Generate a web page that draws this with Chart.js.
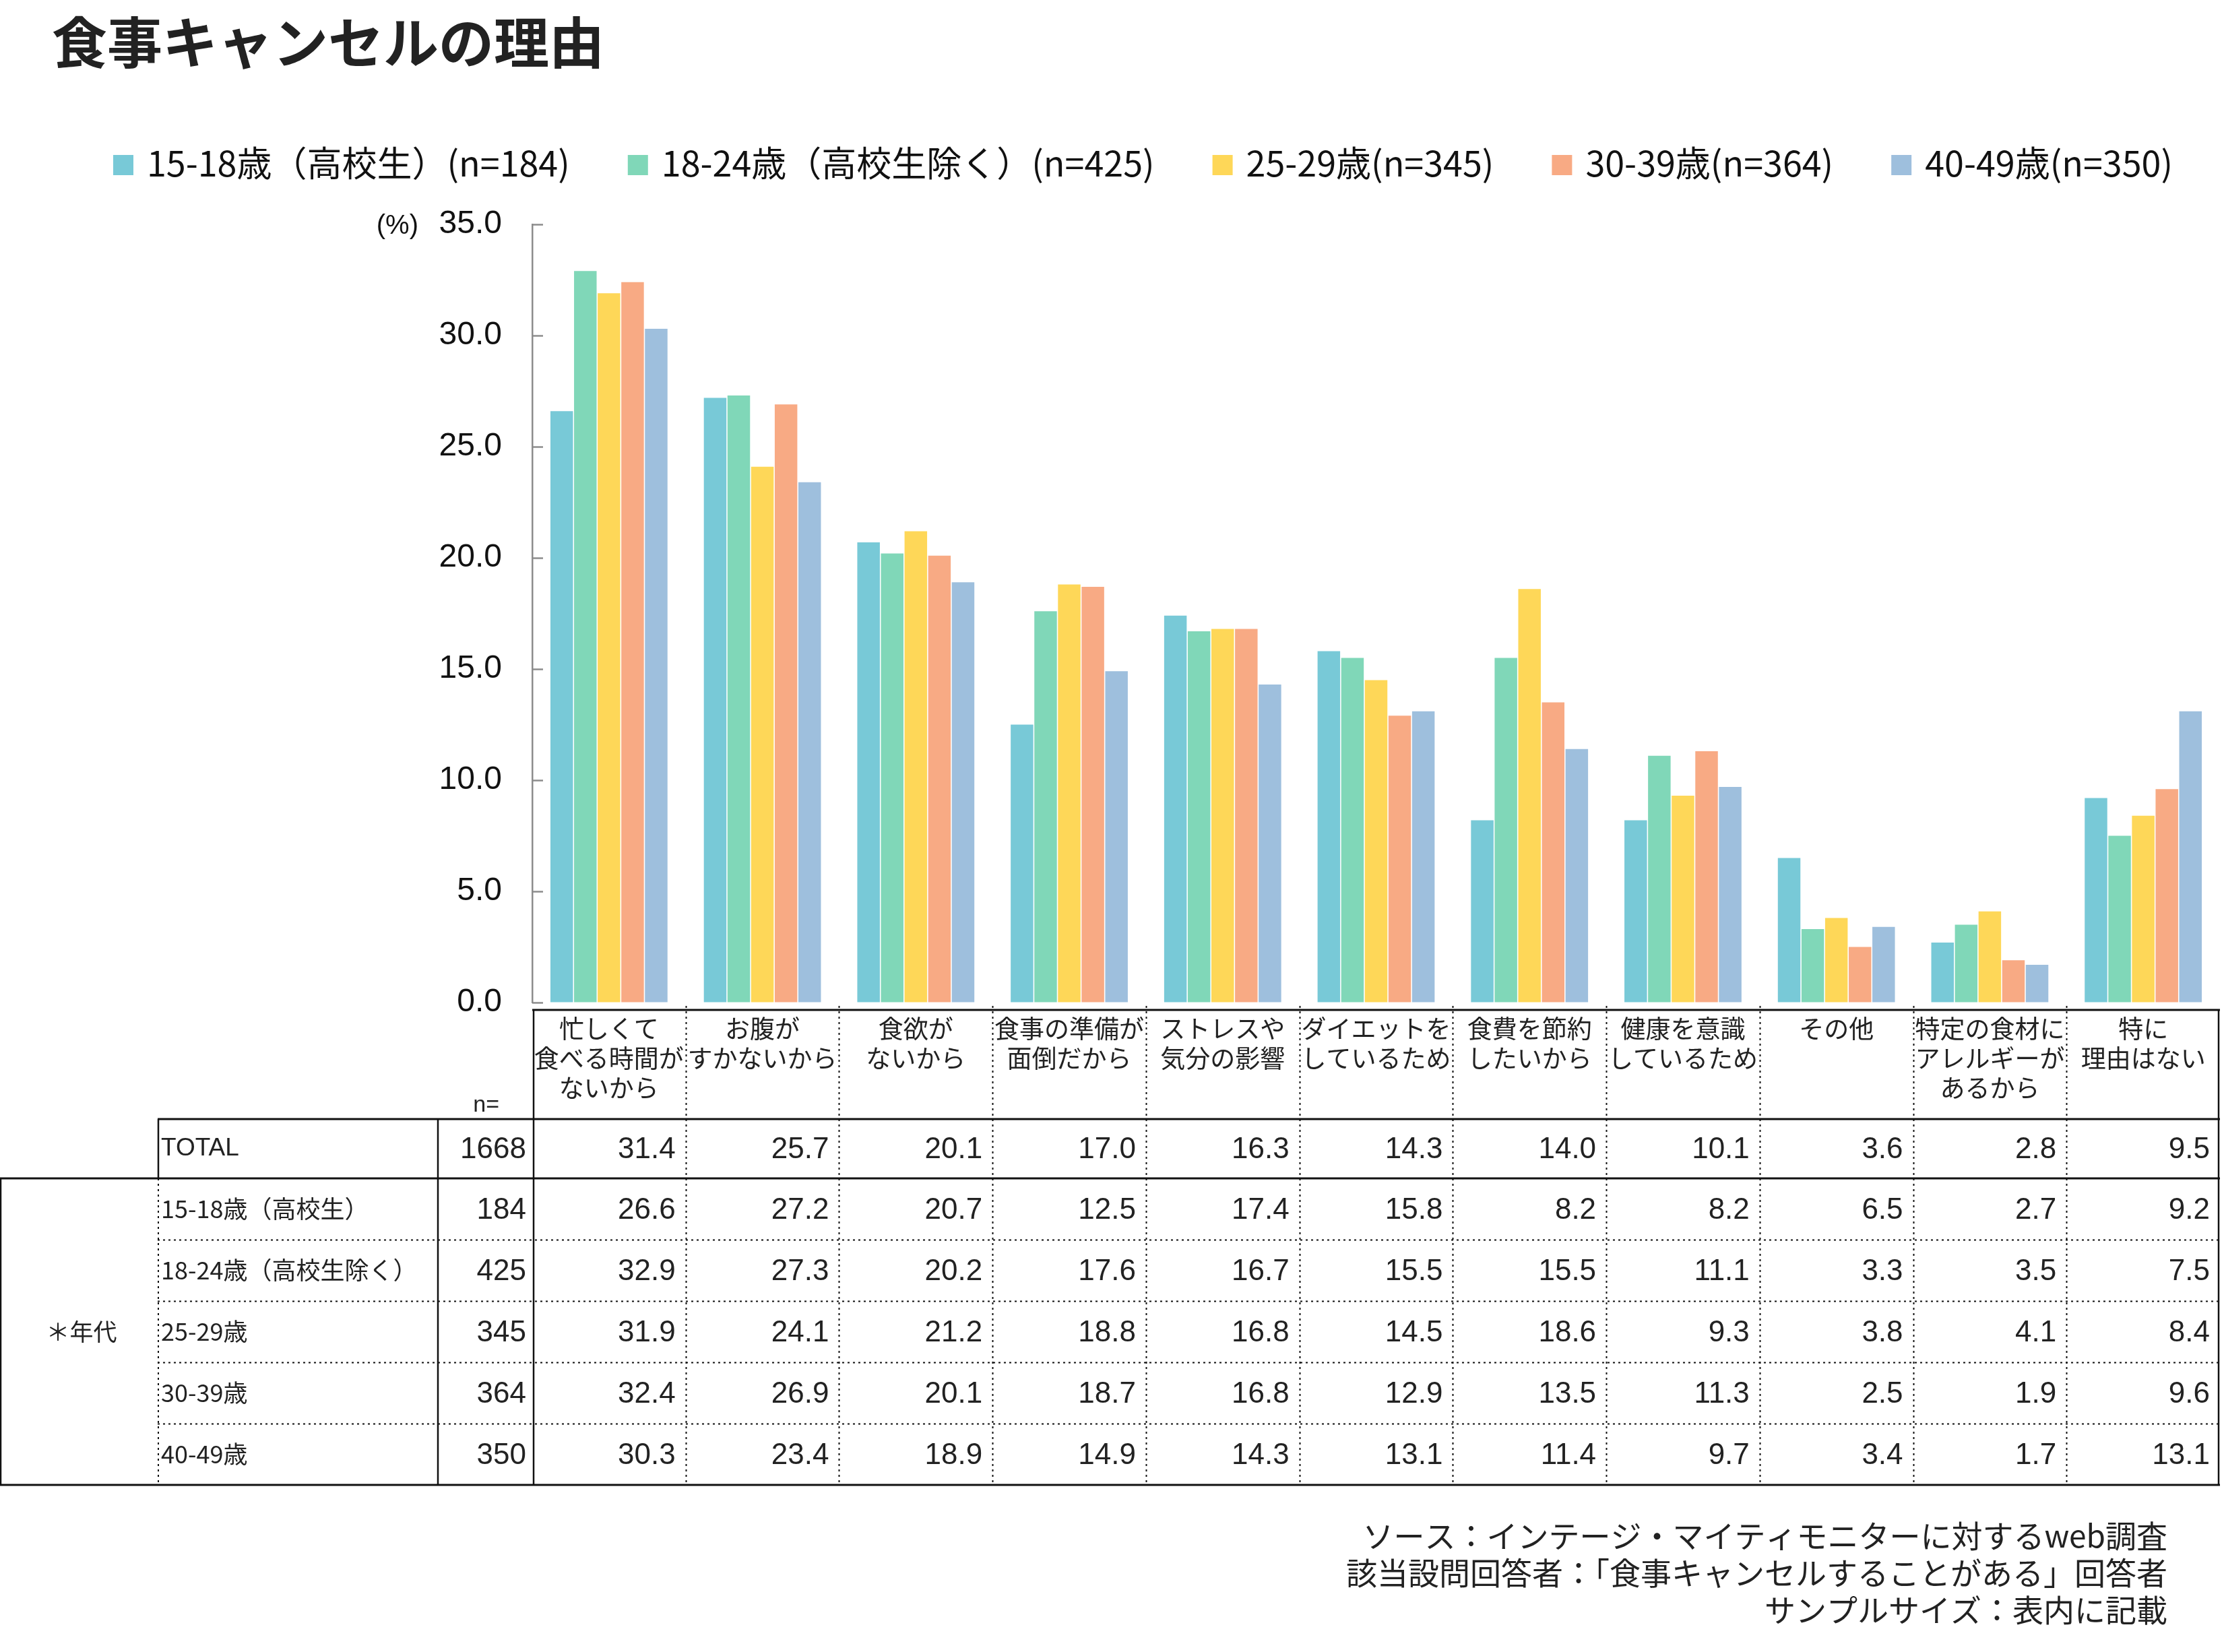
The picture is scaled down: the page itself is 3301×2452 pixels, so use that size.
<!DOCTYPE html>
<html lang="ja">
<head>
<meta charset="utf-8">
<title>食事キャンセルの理由</title>
<script src="https://cdn.jsdelivr.net/npm/chart.js@4.4.1/dist/chart.umd.min.js"></script>
<style>
  html, body { margin: 0; padding: 0; background: #fff; }
  #wrap { width: 3301px; height: 2452px; }
</style>
</head>
<body>
<div id="wrap"><canvas id="myChart" width="3301" height="2452"></canvas></div>
<script>
// categories (header text of the table, line by line)
const categories = [
  ["忙しくて", "食べる時間が", "ないから"],
  ["お腹が", "すかないから"],
  ["食欲が", "ないから"],
  ["食事の準備が", "面倒だから"],
  ["ストレスや", "気分の影響"],
  ["ダイエットを", "しているため"],
  ["食費を節約", "したいから"],
  ["健康を意識", "しているため"],
  ["その他"],
  ["特定の食材に", "アレルギーが", "あるから"],
  ["特に", "理由はない"]
];

const seriesLabels = [
  "15-18歳（高校生）(n=184)",
  "18-24歳（高校生除く）(n=425)",
  "25-29歳(n=345)",
  "30-39歳(n=364)",
  "40-49歳(n=350)"
];
const seriesColors = ["#78c9d7", "#80d7b8", "#fed758", "#f8aa84", "#9ebfdd"];

const age15to18 = [26.6, 27.2, 20.7, 12.5, 17.4, 15.8, 8.2, 8.2, 6.5, 2.7, 9.2];
const age18to24 = [32.9, 27.3, 20.2, 17.6, 16.7, 15.5, 15.5, 11.1, 3.3, 3.5, 7.5];
const age25to29 = [31.9, 24.1, 21.2, 18.8, 16.8, 14.5, 18.6, 9.3, 3.8, 4.1, 8.4];
const age30to39 = [32.4, 26.9, 20.1, 18.7, 16.8, 12.9, 13.5, 11.3, 2.5, 1.9, 9.6];
const age40to49 = [30.3, 23.4, 18.9, 14.9, 14.3, 13.1, 11.4, 9.7, 3.4, 1.7, 13.1];
const totalValues = [31.4, 25.7, 20.1, 17.0, 16.3, 14.3, 14.0, 10.1, 3.6, 2.8, 9.5];

const rowLabels = ["15-18歳（高校生）", "18-24歳（高校生除く）", "25-29歳", "30-39歳", "40-49歳"];
const totalN = 1668;
const rowN = [184, 425, 345, 364, 350];

const yTicks = [0, 5, 10, 15, 20, 25, 30, 35];

const footerLines = [
  "ソース：インテージ・マイティモニターに対するweb調査",
  "該当設問回答者：「食事キャンセルすることがある」回答者",
  "サンプルサイズ：表内に記載"
];

const JP = '"Noto Sans CJK JP", "Noto Sans", sans-serif';
const NUM = '"Liberation Sans", Arial, sans-serif';
const INK = "#222";

// everything that is not a bar: title, legend, inner ticks, table, notes
const extras = {
  id: "extras",
  afterDraw(chart) {
    const ctx = chart.ctx;
    const x = chart.scales.x;
    const y = chart.scales.y;
    const area = chart.chartArea;
    ctx.save();

    // title
    ctx.fillStyle = INK;
    ctx.font = "bold 82px " + JP;
    ctx.textAlign = "left";
    ctx.textBaseline = "middle";
    ctx.fillText("食事キャンセルの理由", 77, 63);

    // legend
    ctx.font = "52px " + JP;
    let lx = 168;
    chart.data.datasets.forEach(ds => {
      ctx.fillStyle = ds.backgroundColor;
      ctx.fillRect(lx, 230, 30, 30);
      ctx.fillStyle = "#111";
      ctx.fillText(ds.label, lx + 50, 242);
      lx += 50 + ctx.measureText(ds.label).width + 86;
    });

    // unit
    ctx.font = "40px " + NUM;
    ctx.textAlign = "right";
    ctx.fillText("(%)", 621, 336);

    // ticks pointing into the plot
    ctx.strokeStyle = "#8c8c8c";
    ctx.lineWidth = 2.5;
    yTicks.forEach(v => {
      const py = Math.round(y.getPixelForValue(v)) + 0.5;
      ctx.beginPath();
      ctx.moveTo(area.left, py);
      ctx.lineTo(area.left + 16, py);
      ctx.stroke();
    });

    // table
    const half = (x.getPixelForValue(1) - x.getPixelForValue(0)) / 2;
    const colLeft = area.left;
    const colRight = x.getPixelForValue(categories.length - 1) + half;
    const tTop = 1499, hBot = 1661, totBot = 1749, tBot = 2204;
    const rowH = (tBot - totBot) / rowLabels.length;
    const labelX = 234, nX = 650;

    const line = (x1, y1, x2, y2, w, dash) => {
      ctx.beginPath();
      ctx.setLineDash(dash || []);
      ctx.lineWidth = w;
      ctx.moveTo(x1, y1);
      ctx.lineTo(x2, y2);
      ctx.stroke();
    };
    ctx.strokeStyle = "#111";
    const dots = [3, 5];

    // dotted
    for (let i = 1; i < rowLabels.length; i++) {
      const ry = Math.round(totBot + rowH * i) + 0.5;
      line(labelX, ry, colRight, ry, 2, dots);
    }
    for (let i = 1; i < categories.length; i++) {
      const cx = Math.round(x.getPixelForValue(i) - half) + 0.5;
      line(cx, tTop - 6, cx, tBot, 2, dots);
    }
    line(labelX + 1, totBot, labelX + 1, tBot, 2, dots);

    // solid
    line(colLeft, tTop, colRight, tTop, 3);
    line(labelX, hBot, colRight, hBot, 3);
    line(0, totBot, colRight, totBot, 3);
    line(0, tBot, colRight, tBot, 3);
    line(1, totBot, 1, tBot, 2.5);
    line(labelX + 1, hBot, labelX + 1, totBot, 2.5);
    line(nX, hBot, nX, tBot, 2.5);
    line(colLeft + 2, tTop, colLeft + 2, tBot, 2.5);
    line(colRight - 2, tTop, colRight - 2, tBot, 2.5);
    ctx.setLineDash([]);

    // header labels
    ctx.fillStyle = INK;
    ctx.font = "37px " + JP;
    ctx.textAlign = "center";
    categories.forEach((lines, i) => {
      const cx = x.getPixelForValue(i);
      lines.forEach((t, k) => ctx.fillText(t, cx, 1527 + k * 44));
    });
    ctx.textAlign = "right";
    ctx.font = "34px " + NUM;
    ctx.fillText("n=", 741, 1641);

    // rows
    const drawRow = (label, n, vals, cy) => {
      ctx.textAlign = "left";
      ctx.font = (label === "TOTAL" ? "37px " + NUM : "36px " + JP);
      ctx.fillText(label, labelX + 5, cy);
      ctx.textAlign = "right";
      ctx.font = "44px " + NUM;
      ctx.fillText(String(n), 781, cy + 2);
      vals.forEach((v, i) => {
        ctx.fillText(v.toFixed(1), x.getPixelForValue(i) + half - 15, cy + 2);
      });
    };
    drawRow("TOTAL", totalN, totalValues, (hBot + totBot) / 2);
    chart.data.datasets.forEach((ds, r) => {
      drawRow(rowLabels[r], rowN[r], ds.data, totBot + rowH * (r + 0.5));
    });
    ctx.textAlign = "center";
    ctx.font = "35px " + JP;
    ctx.fillText("＊年代", 121, totBot + rowH * 2.5);

    // notes
    ctx.textAlign = "right";
    ctx.font = "46px " + JP;
    footerLines.forEach((t, k) => ctx.fillText(t, 3217, 2280 + k * 55));

    ctx.restore();
  }
};

const seriesData = [age15to18, age18to24, age25to29, age30to39, age40to49];

new Chart(document.getElementById("myChart"), {
  type: "bar",
  data: {
    labels: categories.map(c => c.join("")),
    datasets: seriesData.map((d, i) => ({
      label: seriesLabels[i],
      data: d,
      backgroundColor: seriesColors[i],
      borderWidth: 0,
      barPercentage: 0.955,
      categoryPercentage: 0.77
    }))
  },
  options: {
    responsive: false,
    devicePixelRatio: 1,
    animation: false,
    layout: { padding: { top: 333, bottom: 964, left: 0, right: 6 } },
    plugins: {
      legend: { display: false },
      title: { display: false },
      tooltip: { enabled: false }
    },
    scales: {
      x: { display: false },
      y: {
        min: 0,
        max: 35,
        afterFit(scale) { scale.width = 790; },
        afterBuildTicks(scale) { scale.ticks = yTicks.map(v => ({ value: v })); },
        ticks: {
          padding: 45,
          color: "#111",
          font: { family: NUM, size: 48 },
          callback: v => Number(v).toFixed(1)
        },
        grid: { display: true, drawOnChartArea: false, drawTicks: false },
        border: { display: true, color: "#8c8c8c", width: 2.5 }
      }
    }
  },
  plugins: [extras]
});
</script>
</body>
</html>
